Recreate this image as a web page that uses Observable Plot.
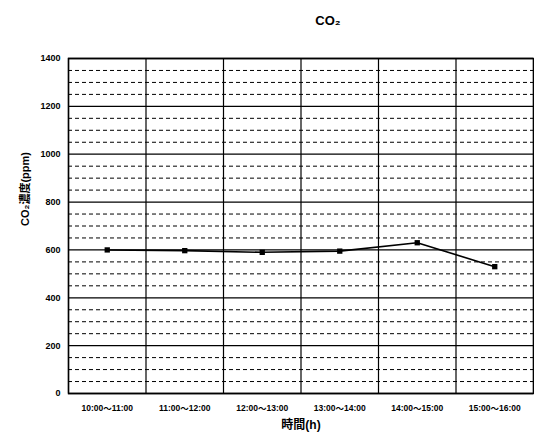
<!DOCTYPE html>
<html><head><meta charset="utf-8">
<script src="https://cdn.jsdelivr.net/npm/d3@7"></script>
<script src="https://cdn.jsdelivr.net/npm/@observablehq/plot@0.6"></script>
<style>
body{margin:0;background:#fff;}
svg{font-family:"Liberation Sans","Noto Sans CJK JP",sans-serif;}
</style></head><body>
<div id="chart"></div>
<script>
const title = "CO₂";
const yLabel = "CO₂濃度(ppm)";
const xLabel = "時間(h)";
const times = ["10:00～11:00","11:00～12:00","12:00～13:00","13:00～14:00","14:00～15:00","15:00～16:00"];
const co2 = [600, 597, 590, 595, 630, 530];
const yTicks = [0,200,400,600,800,1000,1200,1400];
const minorTicks = d3.range(50, 1400, 50).filter(v => v % 200 !== 0);

const data = times.map((t, i) => ({i: i + 0.5, t, v: co2[i]}));
const bounds = d3.range(0, times.length + 1);

const chart = Plot.plot({
  width: 534, height: 443,
  marginLeft: 68, marginRight: 1, marginTop: 58, marginBottom: 50,
  style: {background: "#fff", fontSize: "9px", fontWeight: "bold", color: "#000"},
  x: {domain: [0, times.length], axis: null},
  y: {domain: [0, 1400], axis: null},
  marks: [
    Plot.ruleY(minorTicks, {stroke: "#000", strokeWidth: 1, strokeDasharray: "4,3"}),
    Plot.ruleY(yTicks, {stroke: "#000", strokeWidth: 1.3}),
    Plot.ruleX(bounds, {stroke: "#000", strokeWidth: 1.2}),
    Plot.frame({stroke: "#000", strokeWidth: 1.5}),
    Plot.line(data, {x: "i", y: "v", stroke: "#000", strokeWidth: 1.6}),
    Plot.dot(data, {x: "i", y: "v", symbol: "square", r: 3, fill: "#000"}),
    Plot.axisY(yTicks, {tickSize: 0, tickPadding: 8, label: null, tickFormat: d3.format("d"), fontSize: 9, fontWeight: "bold"}),
    Plot.text(data, {x: "i", text: "t", frameAnchor: "bottom", dy: 17, fontSize: 8.5, fontWeight: "bold"}),
    Plot.text([xLabel], {frameAnchor: "bottom", dy: 35, fontSize: 12, fontWeight: "bold"}),
    Plot.text([title], {frameAnchor: "top", dx: 27, dy: -43, fontSize: 13, fontWeight: "bold"}),
    Plot.text([yLabel], {frameAnchor: "left", dx: -43, dy: 0, rotate: -90, fontSize: 11, fontWeight: "bold"})
  ]
});
document.getElementById("chart").append(chart);
</script>
</body></html>
